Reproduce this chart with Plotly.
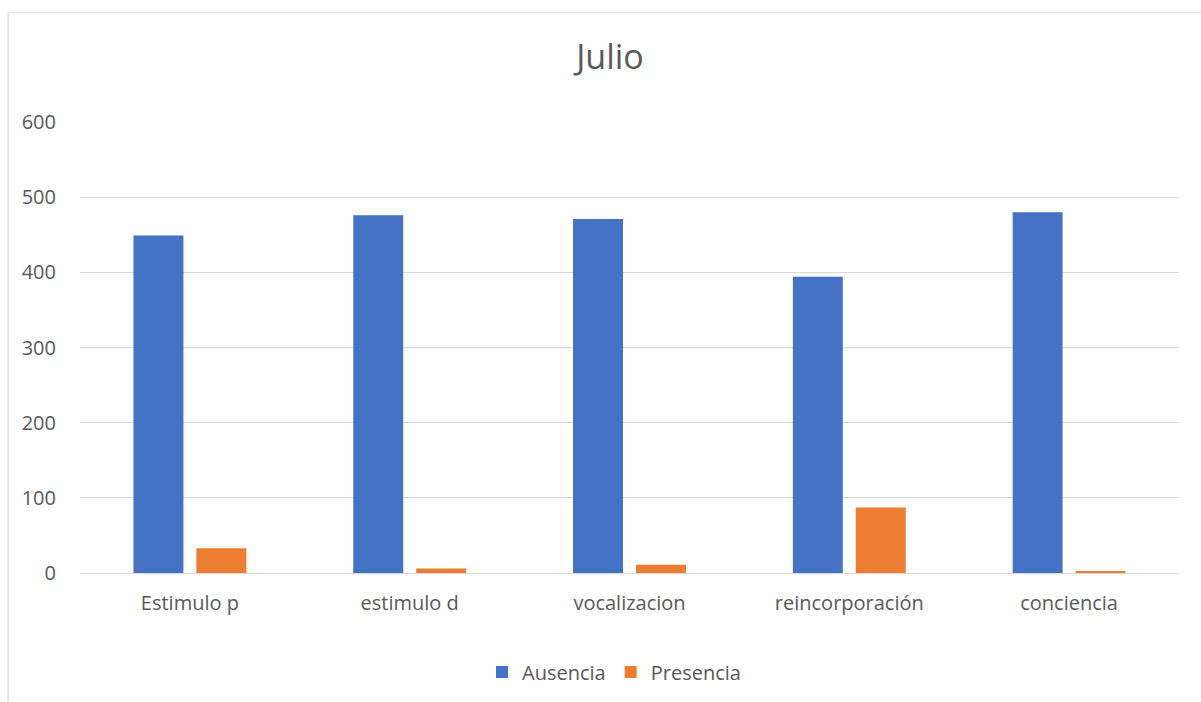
import plotly.graph_objects as go

categories = ["Estimulo p", "estimulo d", "vocalizacion", "reincorporación", "conciencia"]
ausencia = [449, 476, 471, 394, 480]
presencia = [33, 6, 11, 87, 2]
y_ticks = [0, 100, 200, 300, 400, 500, 600]

W, H = 1201, 702
L, R, T, B = 79.5, 1179.5, 122, 574
pw, ph = R - L, B - T

def px(x):
    return (x - L) / pw

def py(y):
    return (B - y) / ph

FONT = "Open Sans"
TXT = "#595959"
GRID = "#d9d9d9"

fig = go.Figure()
fig.add_trace(go.Bar(name="Ausencia", x=categories, y=ausencia, marker=dict(color="#4472c4", line=dict(width=0))))
fig.add_trace(go.Bar(name="Presencia", x=categories, y=presencia, marker=dict(color="#ed7d31", line=dict(width=0))))

fig.update_layout(
    width=W, height=H,
    margin=dict(l=L, r=W - R, t=T, b=H - B, pad=0),
    paper_bgcolor="white", plot_bgcolor="white",
    barmode="group", bargap=94 / 220, bargroupgap=13 / 63,
    font=dict(family=FONT, color=TXT, size=20),
    title=dict(text="Julio", xref="container", x=610 / W, xanchor="center", y=1 - 57 / H, yanchor="middle",
               font=dict(size=34, color=TXT, family=FONT)),
    showlegend=True,
    legend=dict(orientation="h", x=px(614), xanchor="center", y=py(672), yanchor="middle",
                font=dict(size=20, color=TXT), traceorder="normal", itemwidth=30),
    xaxis=dict(showgrid=False, showline=False, ticks="", ticklabelstandoff=16,
               tickfont=dict(size=20, color=TXT)),
    yaxis=dict(range=[0, 600], tickvals=y_ticks, showgrid=True, gridcolor=GRID, gridwidth=1,
               zeroline=True, zerolinecolor=GRID, zerolinewidth=1, showline=False, ticks="",
               ticklabelstandoff=23, tickfont=dict(size=20, color=TXT)),
    shapes=[dict(type="rect", xref="paper", yref="paper",
                 x0=px(7.5), x1=px(1215), y0=py(12.5), y1=py(715),
                 line=dict(color=GRID, width=1), fillcolor="rgba(0,0,0,0)", layer="below")],
)

fig.write_html("out.html")
